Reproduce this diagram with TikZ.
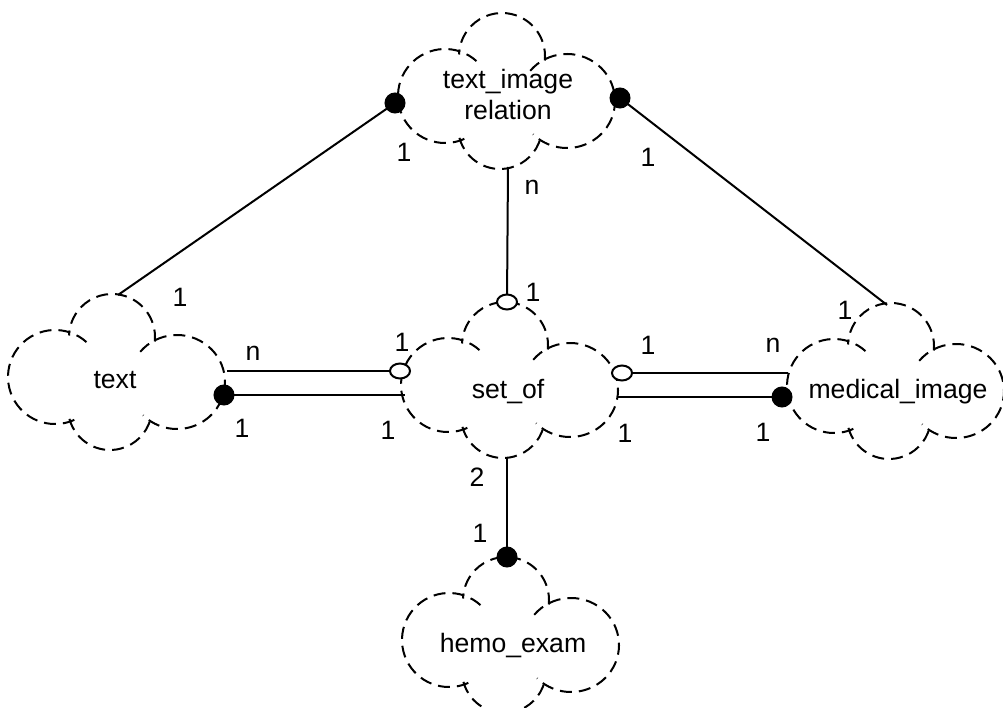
\documentclass[tikz,border=0pt]{standalone}
\usepackage{fontspec}
\setmainfont{Liberation Sans}
\tikzset{
  pics/erdcloud/.style={code={
    \draw[cloudline] (-62,-5) ++(48:47) arc[start angle=48,end angle=300,radius=47];
    \draw[cloudline] (-5,35) ++(-6:43) arc[start angle=-6,end angle=178,radius=43];
    \draw[cloudline] (60,-10) ++(140:48 and 47) arc[start angle=140,end angle=-135,x radius=48,y radius=47];
    \draw[cloudline] (-7,-36) ++(195:42) arc[start angle=195,end angle=345,radius=42];
  }},
}
\begin{document}
\begin{tikzpicture}[x=1pt,y=1pt,
  cloudline/.style={draw=black,line width=2pt,dash pattern=on 12pt off 7pt},
  conn/.style={draw=black,line width=2pt},
  fdot/.style={fill=black,draw=black,line width=1pt},
  odot/.style={fill=white,draw=black,line width=2pt},
  ent/.style={inner sep=0pt,anchor=base,font=\fontsize{26.6pt}{31pt}\selectfont},
  lbl/.style={inner sep=0pt,font=\fontsize{26.6pt}{31pt}\selectfont},
]
\useasboundingbox (0,0) rectangle (1003,-708);

% cloud centres
\coordinate (rel) at (507,-91);
\coordinate (txt) at (117,-372);
\coordinate (set) at (510,-380);
\coordinate (med) at (896,-381);
\coordinate (hem) at (511,-635);

\pic at (rel) {erdcloud};
\pic at (txt) {erdcloud};
\pic at (set) {erdcloud};
\pic at (med) {erdcloud};
\pic at (hem) {erdcloud};

% entity names
\node[ent] (relT1) at (508,-89) {text\_image};
\node[ent] (relT2) at (508,-120) {relation};
\node[ent] (txtT) at (115,-388) {text};
\node[ent] (setN) at (508,-398) {set\_of};
\node[ent] (medN) at (898,-398) {medical\_image};
\node[ent] (hemN) at (513,-652) {hemo\_exam};

% connector ends
\coordinate (relL) at (395,-103);
\coordinate (relR) at (620,-98);
\coordinate (relB) at (508,-167);
\coordinate (txtTop) at (118,-295);
\coordinate (txtRu) at (227,-371);
\coordinate (txtRd) at (224,-395);
\coordinate (setT) at (507,-302);
\coordinate (setLu) at (400,-371);
\coordinate (setLd) at (405,-395);
\coordinate (setRu) at (622,-373);
\coordinate (setRd) at (617,-397);
\coordinate (setB) at (507,-458);
\coordinate (medT) at (887,-305);
\coordinate (medLu) at (788,-373);
\coordinate (medLd) at (782,-397);
\coordinate (hemT) at (507,-557);

% connectors
\draw[conn] (relL) -- (txtTop);
\draw[conn] (relR) -- (medT);
\draw[conn] (relB) -- (setT);
\draw[conn] (txtRu) -- (setLu);
\draw[conn] (txtRd) -- (setLd);
\draw[conn] (setRu) -- (medLu);
\draw[conn] (setRd) -- (medLd);
\draw[conn] (setB) -- (hemT);

% end marks
\filldraw[fdot] (relL) circle[radius=10];
\filldraw[fdot] (relR) circle[radius=10];
\filldraw[fdot] (txtRd) circle[radius=10];
\filldraw[fdot] (medLd) circle[radius=10];
\filldraw[fdot] (hemT) circle[radius=10];
\filldraw[odot] (setT) ellipse[x radius=10,y radius=7.5];
\filldraw[odot] (setLu) ellipse[x radius=10,y radius=7.5];
\filldraw[odot] (setRu) ellipse[x radius=10,y radius=7.5];

% cardinalities
\node[lbl] (c1) at (404,-152) {1};
\node[lbl] (c2) at (532,-187) {n};
\node[lbl] (c3) at (648,-157) {1};
\node[lbl] (c4) at (180,-297) {1};
\node[lbl] (c5) at (845,-310) {1};
\node[lbl] (c6) at (533,-292) {1};
\node[lbl] (c7) at (253,-353) {n};
\node[lbl] (c8) at (242,-428) {1};
\node[lbl] (c9) at (402,-342) {1};
\node[lbl] (c10) at (388,-430) {1};
\node[lbl] (c11) at (648,-345) {1};
\node[lbl] (c12) at (773,-345) {n};
\node[lbl] (c13) at (625,-433) {1};
\node[lbl] (c14) at (763,-432) {1};
\node[lbl] (c15) at (477,-477) {2};
\node[lbl] (c16) at (480,-533) {1};
\end{tikzpicture}
\end{document}
